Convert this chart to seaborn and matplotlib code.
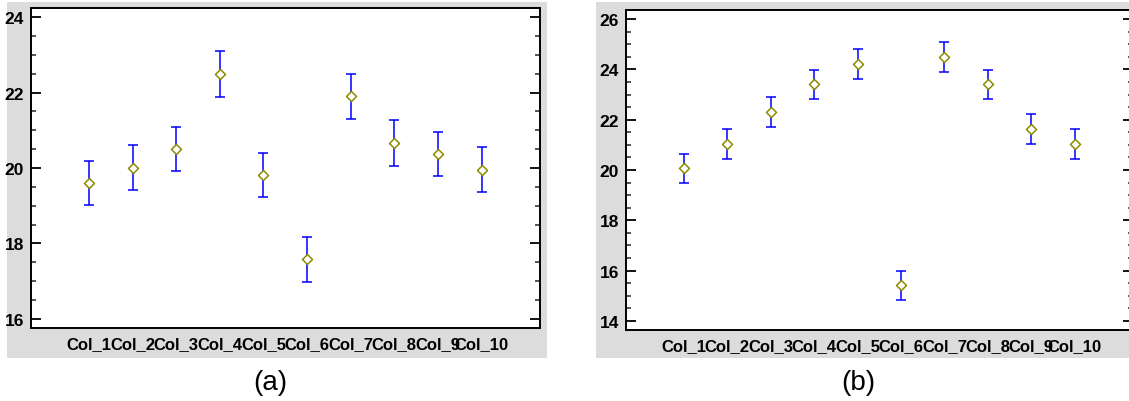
import matplotlib
matplotlib.use("Agg")
import matplotlib.pyplot as plt
from matplotlib.patches import Rectangle
from matplotlib.ticker import MultipleLocator
import seaborn as sns
import pandas as pd
import numpy as np

categories = ["Col_1", "Col_2", "Col_3", "Col_4", "Col_5", "Col_6", "Col_7", "Col_8", "Col_9", "Col_10"]
means_a = [19.61, 20.01, 20.50, 22.49, 19.82, 17.58, 21.90, 20.65, 20.37, 19.96]
err_a = [0.58, 0.60, 0.58, 0.60, 0.59, 0.60, 0.59, 0.61, 0.59, 0.59]
means_b = [20.06, 21.03, 22.32, 23.40, 24.21, 15.42, 24.48, 23.40, 21.62, 21.02]
err_b = [0.59, 0.60, 0.60, 0.59, 0.60, 0.58, 0.59, 0.59, 0.60, 0.60]
ylim_a = (15.76, 24.24)
ylim_b = (13.64, 26.36)
captions = ["(a)", "(b)"]

sns.set_theme(style="white")
plt.rcParams["font.family"] = ["Liberation Sans", "DejaVu Sans"]

fig = plt.figure(figsize=(11.29, 4.02), dpi=100)
W, H = 1129, 402

def px_rect(x0, y0, x1, y1):
    return [x0 / W, 1 - y1 / H, (x1 - x0) / W, (y1 - y0) / H]

# gray panel backgrounds
for (x0, y0, x1, y1) in [(7, 3, 547, 359), (596, 3, 1135, 359)]:
    r = px_rect(x0, y0, x1, y1)
    fig.patches.append(Rectangle((r[0], r[1]), r[2], r[3], transform=fig.transFigure,
                                 facecolor="#dcdcdc", edgecolor="none", zorder=-10))

ax_a = fig.add_axes(px_rect(31, 9, 540, 329))
ax_b = fig.add_axes(px_rect(626, 11, 1133, 331))

for ax, means, errs, ylim, cap, cx in [(ax_a, means_a, err_a, ylim_a, captions[0], 270),
                                        (ax_b, means_b, err_b, ylim_b, captions[1], 858)]:
    ax.set_zorder(1)
    df = pd.DataFrame({"cat": categories, "mean": means, "err": errs})
    df["pos"] = np.arange(len(categories))
    ax.errorbar(df["pos"], df["mean"], yerr=df["err"], fmt="none", ecolor="#0000ff",
                elinewidth=1.1, capsize=3.3, capthick=1.1, zorder=2)
    sns.scatterplot(data=df, x="pos", y="mean", marker="D", s=26, facecolor="white",
                    edgecolor="#8b8b00", linewidth=1.1, ax=ax, zorder=3, legend=False)
    ax.set_xlim(-1.33, 10.34)
    ax.set_ylim(*ylim)
    ax.set_xticks(df["pos"])
    ax.set_xticklabels(categories, fontsize=12, fontweight="bold")
    ax.yaxis.set_major_locator(MultipleLocator(2))
    ax.yaxis.set_minor_locator(MultipleLocator(0.5))
    ax.tick_params(axis="y", which="major", direction="in", length=7, width=1.3,
                   left=True, right=True, labelsize=12.5, pad=5, colors="black")
    ax.tick_params(axis="y", which="minor", direction="in", length=3.5, width=1.1,
                   left=True, right=True)
    ax.tick_params(axis="x", which="both", length=0, pad=6, colors="black")
    for lbl in ax.get_yticklabels():
        lbl.set_fontweight("bold")
    for s in ax.spines.values():
        s.set_visible(True)
        s.set_color("black")
        s.set_linewidth(1.4)
    ax.set_facecolor("white")
    ax.set_xlabel("")
    ax.set_ylabel("")
    fig.text(cx / W, 1 - 383 / H, cap, ha="center", va="center", fontsize=20, color="black")

fig.savefig("out.png", dpi=100)
